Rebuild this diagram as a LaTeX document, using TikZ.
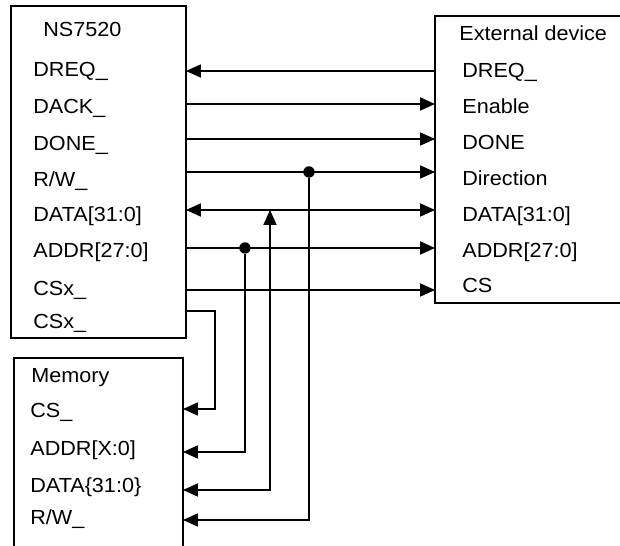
\documentclass[tikz,border=0pt]{standalone}
\usepackage{fontspec}
\setmainfont{Liberation Sans}[FakeStretch=1.06]
\usetikzlibrary{arrows.meta, positioning}

\begin{document}
\begin{tikzpicture}[x=0.02cm, y=-0.02cm,
    pin/.style={anchor=base west, inner sep=0pt, font=\fontsize{11.6}{13}\selectfont},
    wire/.style={line width=0.6pt},
    sig/.style={wire, -{Triangle[length=8.5pt, width=7.5pt]}},
    bus/.style={wire, {Triangle[length=8.5pt, width=7.5pt]}-{Triangle[length=8.5pt, width=7.5pt]}},
    joint/.style={circle, fill, inner sep=0pt, minimum size=6.5pt}]
    \useasboundingbox (0,0) rectangle (620,546);

    % boxes
    \draw[wire] (11,6) rectangle (186,338);
    \draw[wire] (620,16) -- (435,16) -- (435,303) -- (620,303);
    \draw[wire] (14,546) -- (14,358) -- (183,358) -- (183,546);

    % titles
    \node[pin] (nsname) at (43,37) {NS7520};
    \node[pin] (exname) at (459,41) {External device};
    \node[pin] (memname) at (31,383) {Memory};

    % pin labels
    \foreach \t/\y [count=\i] in {{DREQ\_}/77, {DACK\_}/114, {DONE\_}/151, {R/W\_}/187,
        {DATA[31:0]}/222, {ADDR[27:0]}/258, {CSx\_}/296, {CSx\_}/329}
      \node[pin] (nslbl\i) at (33,\y) {\t};
    \foreach \t/\y [count=\i] in {{DREQ\_}/78, {Enable}/114, {DONE}/150, {Direction}/186,
        {DATA[31:0]}/222, {ADDR[27:0]}/258, {CS}/293}
      \node[pin] (exlbl\i) at (462,\y) {\t};
    \foreach \t/\y [count=\i] in {{CS\_}/418, {ADDR[X:0]}/456, {DATA\{31:0\}}/493, {R/W\_}/525}
      \node[pin] (memlbl\i) at (30,\y) {\t};

    % pin points on the box edges
    \foreach \y [count=\i] in {71,104,139,172,210,248,290,311}
      \coordinate (nsp\i) at (186,\y);
    \foreach \y [count=\i] in {71,104,139,172,210,248,290}
      \coordinate (exp\i) at (435,\y);
    \foreach \y [count=\i] in {409,452,490,520}
      \coordinate (memp\i) at (183,\y);

    % NS7520 <-> external device
    \draw[sig] (exp1) -- (nsp1);
    \draw[sig] (nsp2) -- (exp2);
    \draw[sig] (nsp3) -- (exp3);
    \draw[sig] (nsp4) -- (exp4);
    \draw[bus] (nsp5) -- (exp5);
    \draw[sig] (nsp6) -- (exp6);
    \draw[sig] (nsp7) -- (exp7);

    % taps down to memory
    \node[joint] (jrw) at (309,172) {};
    \node[joint] (jaddr) at (245,248) {};
    \coordinate (jdata) at (270,210);
    \draw[sig] (nsp8) -- ++(29,0) |- (memp1);
    \draw[sig] (jaddr) |- (memp2);
    \draw[bus] (jdata) |- (memp3);
    \draw[sig] (jrw) |- (memp4);
\end{tikzpicture}
\end{document}
